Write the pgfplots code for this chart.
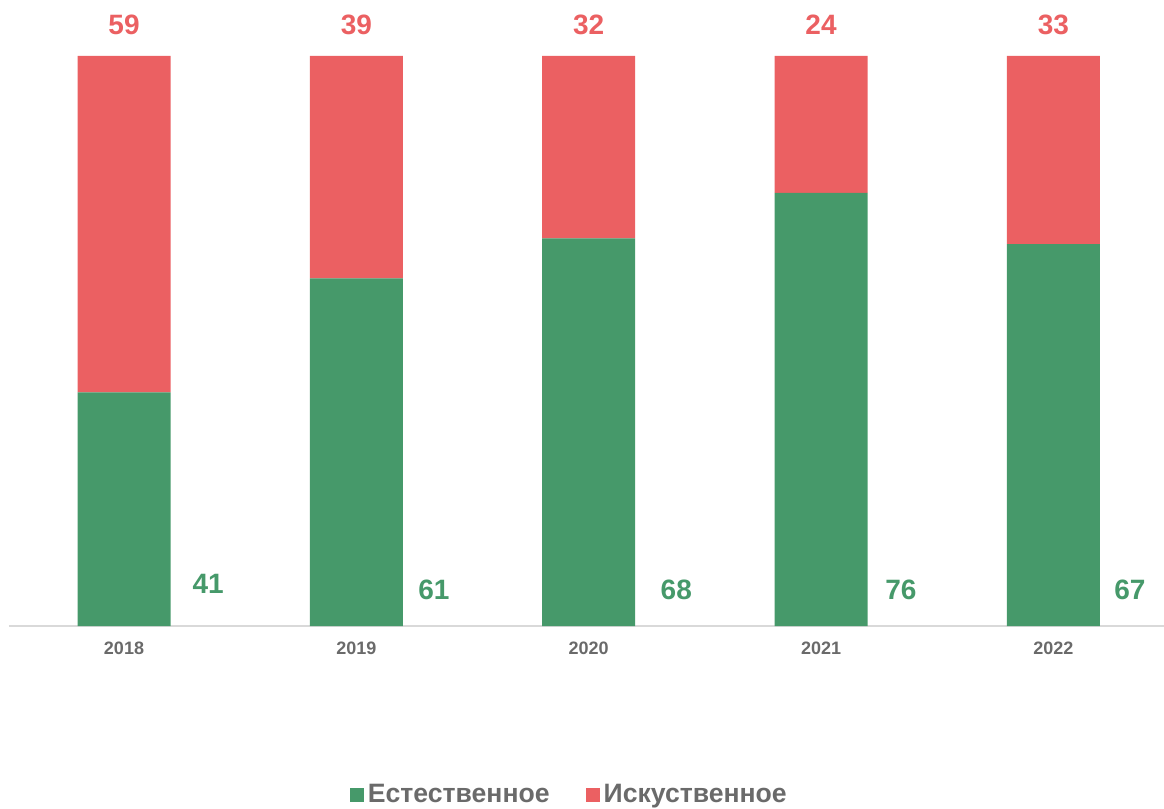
\documentclass[border=0pt]{standalone}
\usepackage{pgfplots}
\usepackage{pgfplotstable}
\pgfplotsset{compat=1.18}
\usepackage{fontspec}
\setmainfont{Liberation Sans}
\definecolor{cgreen}{HTML}{46996A}
\definecolor{cred}{HTML}{EB6062}
\definecolor{cgray}{HTML}{6A6A6A}
\definecolor{cline}{HTML}{D9D9D9}
\pgfplotstableread{
x nat art
0 41 59
1 61 39
2 68 32
3 76 24
4 67 33
}\datatable
\pgfplotstableread{
x y lab
0.362 7.4 41
1.334 6.3 61
2.377 6.3 68
3.344 6.3 76
4.329 6.3 67
}\greenlab
\pgfplotstableread{
x y lab
0 105.4 59
1 105.4 39
2 105.4 32
3 105.4 24
4 105.4 33
}\redlab
\begin{document}
\begin{tikzpicture}
\begin{axis}[
  at={(0,0)}, anchor=south west,
  scale only axis,
  width=577.5pt, height=285pt,
  xmin=-0.495, xmax=4.476,
  ymin=0, ymax=100,
  clip=false,
  ybar stacked,
  bar width=46.5pt,
  axis y line=none,
  axis x line*=bottom,
  x axis line style={draw=cline, line width=1pt, -},
  xtick=data,
  xticklabels={2018,2019,2020,2021,2022},
  major tick length=0pt,
  xticklabel style={anchor=center, yshift=-11pt, font=\fontsize{9}{10}\selectfont\bfseries, text=cgray},
  ytick=\empty,
  legend style={at={(0.486,-0.2965)}, anchor=center, draw=none, fill=none,
    font=\fontsize{13.3}{15}\selectfont\bfseries, text=cgray,
    /tikz/every even column/.append style={column sep=16pt}},
  legend columns=2,
  legend image code/.code={\fill[#1] (0pt,-3.5pt) rectangle (7pt,3.5pt);},
  legend cell align=left,
]
\addplot[fill=cgreen, draw=none] table[x=x, y=nat] {\datatable};
\addplot[fill=cred, draw=none] table[x=x, y=art] {\datatable};
\legend{Естественное, Искуственное}
\end{axis}
\begin{axis}[
  at={(0,0)}, anchor=south west,
  scale only axis,
  width=577.5pt, height=285pt,
  xmin=-0.495, xmax=4.476,
  ymin=0, ymax=100,
  clip=false,
  hide axis,
]
\addplot[only marks, mark=none, nodes near coords, point meta=explicit symbolic,
  nodes near coords style={anchor=center, text=cgreen, font=\fontsize{14}{16}\selectfont\bfseries}]
  table[x=x, y=y, meta=lab] {\greenlab};
\addplot[only marks, mark=none, nodes near coords, point meta=explicit symbolic,
  nodes near coords style={anchor=center, text=cred, font=\fontsize{14}{16}\selectfont\bfseries}]
  table[x=x, y=y, meta=lab] {\redlab};
\end{axis}
\pgfresetboundingbox
\path[use as bounding box] (-4.5pt,-91.5pt) rectangle (577.5pt,313pt);
\end{tikzpicture}
\end{document}
